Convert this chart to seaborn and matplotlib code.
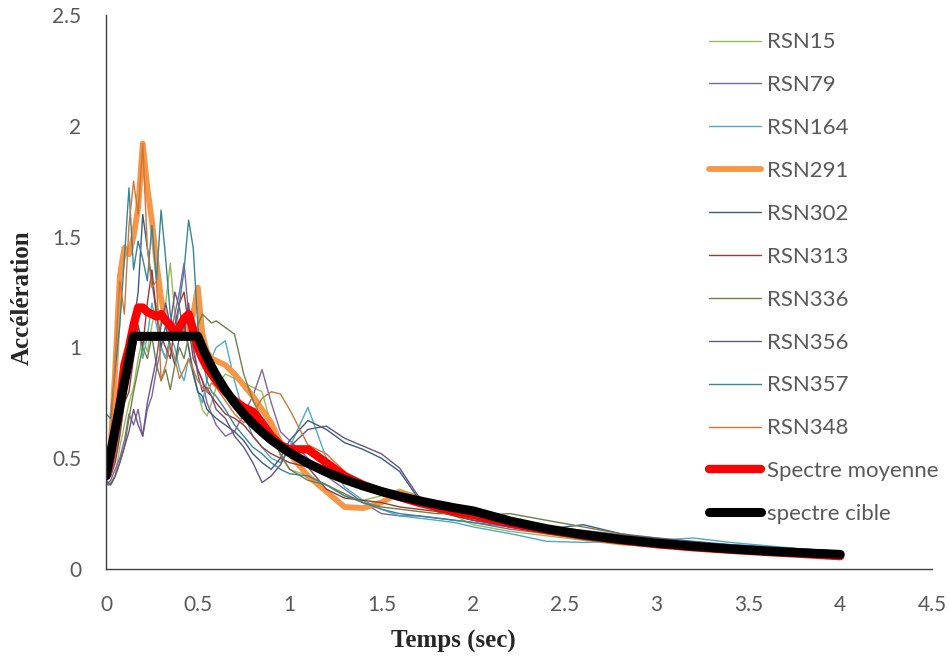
import matplotlib
matplotlib.use("Agg")
import matplotlib.pyplot as plt
import seaborn as sns
import numpy as np

# ---------------- data ----------------
periods = [0, 0.025, 0.05, 0.075, 0.1, 0.125, 0.15, 0.175, 0.2, 0.225, 0.25, 0.275,
           0.3, 0.325, 0.35, 0.375, 0.4, 0.425, 0.45, 0.475, 0.5, 0.525, 0.55, 0.575,
           0.6, 0.65, 0.7, 0.75, 0.8, 0.85, 0.9, 0.95, 1.0, 1.1, 1.2, 1.3, 1.4, 1.5,
           1.6, 1.7, 1.8, 1.9, 2.0, 2.2, 2.4, 2.6, 2.8, 3.0, 3.2, 3.4, 3.6, 3.8, 4.0]

rsn15 = [0.38, 0.39, 0.42, 0.55, 0.65, 0.75, 0.82, 0.95, 1.05, 0.98, 1.10, 1.20,
         1.10, 1.20, 1.38, 1.15, 1.05, 1.12, 1.00, 0.90, 0.80, 0.72, 0.69, 0.75,
         0.82, 0.88, 0.86, 0.84, 0.82, 0.80, 0.65, 0.51, 0.45, 0.42, 0.38, 0.33, 0.31, 0.33,
         0.36, 0.33, 0.28, 0.24, 0.20, 0.17, 0.15, 0.13, 0.11, 0.10, 0.09, 0.08, 0.072, 0.066, 0.06]
rsn79 = [0.38, 0.40, 0.45, 0.50, 0.58, 0.70, 0.65, 0.72, 0.60, 0.72, 0.78, 0.90,
         1.00, 0.95, 1.05, 1.15, 1.25, 1.38, 1.15, 1.00, 0.90, 0.85, 0.75, 0.70,
         0.65, 0.60, 0.62, 0.70, 0.78, 0.90, 0.75, 0.62, 0.58, 0.50, 0.42, 0.36, 0.30, 0.25,
         0.24, 0.24, 0.23, 0.22, 0.21, 0.18, 0.16, 0.14, 0.12, 0.11, 0.10, 0.09, 0.08, 0.072, 0.065]
rsn164 = [0.40, 0.42, 0.50, 0.62, 0.75, 0.90, 1.00, 1.10, 0.95, 1.05, 1.20, 1.10,
          1.00, 0.95, 1.05, 1.00, 0.90, 0.85, 0.95, 0.88, 0.80, 0.75, 0.85, 0.95,
          1.00, 1.03, 0.85, 0.70, 0.60, 0.55, 0.50, 0.48, 0.55, 0.73, 0.50, 0.37, 0.31, 0.27,
          0.24, 0.23, 0.22, 0.21, 0.19, 0.16, 0.125, 0.12, 0.125, 0.13, 0.14, 0.12, 0.105, 0.09, 0.08]
rsn291 = [0.45, 0.55, 0.90, 1.32, 1.45, 1.42, 1.50, 1.63, 1.92, 1.72, 1.57, 1.38,
          1.22, 1.12, 1.08, 1.06, 1.07, 1.05, 1.09, 1.15, 1.27, 1.06, 0.98, 0.95,
          0.94, 0.92, 0.88, 0.83, 0.78, 0.72, 0.66, 0.57, 0.52, 0.42, 0.35, 0.28, 0.275, 0.30,
          0.345, 0.32, 0.28, 0.255, 0.235, 0.20, 0.17, 0.145, 0.125, 0.108, 0.095, 0.084, 0.075, 0.067, 0.06]
rsn302 = [0.42, 0.45, 0.55, 0.70, 0.85, 1.00, 1.10, 1.25, 1.60, 1.45, 1.30, 1.15,
          1.00, 1.10, 1.00, 0.92, 1.05, 1.10, 1.00, 0.88, 0.80, 0.78, 0.72, 0.70,
          0.68, 0.65, 0.62, 0.58, 0.52, 0.48, 0.45, 0.50, 0.58, 0.67, 0.63, 0.57, 0.54, 0.50,
          0.44, 0.32, 0.26, 0.24, 0.22, 0.20, 0.18, 0.20, 0.16, 0.13, 0.12, 0.11, 0.10, 0.09, 0.08]
rsn313 = [0.40, 0.42, 0.48, 0.60, 0.75, 0.80, 0.95, 1.10, 1.00, 1.20, 1.35, 1.15,
          1.05, 1.00, 0.95, 1.10, 1.20, 1.25, 1.10, 0.95, 0.90, 0.85, 0.80, 0.78,
          0.75, 0.70, 0.68, 0.65, 0.60, 0.55, 0.52, 0.50, 0.48, 0.46, 0.36, 0.32, 0.31, 0.30,
          0.28, 0.27, 0.26, 0.24, 0.22, 0.19, 0.17, 0.15, 0.13, 0.11, 0.10, 0.09, 0.08, 0.07, 0.065]
rsn336 = [0.38, 0.38, 0.42, 0.48, 0.55, 0.68, 0.80, 0.90, 1.00, 0.95, 1.05, 0.92,
          0.85, 0.90, 0.81, 0.92, 1.00, 0.95, 1.05, 1.00, 1.10, 1.15, 1.13, 1.11,
          1.12, 1.09, 1.06, 0.88, 0.76, 0.68, 0.60, 0.52, 0.45, 0.40, 0.38, 0.34, 0.30, 0.28,
          0.27, 0.26, 0.25, 0.25, 0.24, 0.25, 0.22, 0.19, 0.16, 0.14, 0.12, 0.105, 0.095, 0.085, 0.075]
rsn356 = [0.40, 0.38, 0.42, 0.48, 0.55, 0.62, 0.72, 0.65, 0.60, 0.75, 0.85, 0.95,
          1.10, 1.20, 1.10, 1.25, 1.18, 1.05, 1.20, 1.00, 0.88, 0.80, 0.82, 0.78,
          0.72, 0.68, 0.60, 0.55, 0.48, 0.39, 0.42, 0.47, 0.55, 0.63, 0.645, 0.59, 0.555, 0.52,
          0.455, 0.33, 0.27, 0.25, 0.23, 0.21, 0.19, 0.175, 0.155, 0.14, 0.125, 0.11, 0.10, 0.09, 0.08]
rsn357 = [0.70, 0.68, 0.90, 1.10, 1.40, 1.72, 1.35, 1.48, 1.40, 1.30, 1.55, 1.30,
          1.62, 1.40, 1.15, 1.05, 1.20, 1.35, 1.575, 1.45, 1.10, 0.95, 0.85, 0.80,
          0.78, 0.72, 0.65, 0.60, 0.55, 0.52, 0.48, 0.45, 0.43, 0.42, 0.38, 0.33, 0.30, 0.27,
          0.25, 0.24, 0.23, 0.22, 0.21, 0.19, 0.17, 0.15, 0.13, 0.12, 0.11, 0.10, 0.09, 0.08, 0.075]
rsn348 = [0.45, 0.60, 0.95, 1.30, 1.15, 1.55, 1.75, 1.60, 1.92, 1.45, 1.27, 1.30,
          0.85, 0.92, 1.02, 0.95, 0.86, 0.90, 0.95, 0.90, 0.85, 0.82, 0.80, 0.84,
          0.82, 0.76, 0.70, 0.66, 0.70, 0.77, 0.80, 0.79, 0.72, 0.56, 0.52, 0.44, 0.38, 0.34,
          0.32, 0.30, 0.28, 0.26, 0.24, 0.20, 0.17, 0.145, 0.125, 0.105, 0.092, 0.082, 0.072, 0.064, 0.056]
spectre_moyenne = [0.42, 0.50, 0.62, 0.75, 0.92, 1.00, 1.10, 1.18, 1.18, 1.16, 1.15, 1.14,
                   1.15, 1.12, 1.10, 1.06, 1.09, 1.13, 1.15, 1.08, 1.00, 0.95, 0.91, 0.88,
                   0.85, 0.80, 0.76, 0.73, 0.71, 0.66, 0.60, 0.56, 0.54, 0.54, 0.48, 0.42, 0.38, 0.35,
                   0.325, 0.30, 0.28, 0.26, 0.245, 0.205, 0.175, 0.15, 0.13, 0.112, 0.098, 0.087, 0.077, 0.068, 0.058]
spectre_cible = [0.42, 0.525, 0.63, 0.735, 0.84, 0.945, 1.05, 1.05, 1.05, 1.05, 1.05, 1.05,
                 1.05, 1.05, 1.05, 1.05, 1.05, 1.05, 1.05, 1.05, 1.05, 1.0, 0.955, 0.913,
                 0.875, 0.808, 0.75, 0.70, 0.656, 0.618, 0.583, 0.553, 0.525, 0.477, 0.4375, 0.404, 0.375, 0.35,
                 0.328, 0.309, 0.292, 0.276, 0.2625, 0.217, 0.182, 0.155, 0.134, 0.117, 0.103, 0.091, 0.081, 0.073, 0.066]

series_names = ["RSN15", "RSN79", "RSN164", "RSN291", "RSN302", "RSN313",
                "RSN336", "RSN356", "RSN357", "RSN348", "Spectre moyenne", "spectre cible"]
series_values = [rsn15, rsn79, rsn164, rsn291, rsn302, rsn313,
                 rsn336, rsn356, rsn357, rsn348, spectre_moyenne, spectre_cible]
colors = ["#9BBB59", "#8064A2", "#4BACC6", "#F79646", "#3B5B86", "#973A38",
          "#6E8046", "#67557F", "#3A8595", "#C9783A", "#FF0000", "#000000"]
widths = [1.0, 1.0, 1.0, 4.2, 1.0, 1.0, 1.0, 1.0, 1.0, 1.0, 6.0, 6.5]

# ---------------- plot ----------------
sns.set_style("white")
plt.rcParams['font.family'] = ['Lato', 'DejaVu Sans']

fig = plt.figure(figsize=(9.5, 6.7), dpi=100)
ax = fig.add_axes([0.1116, 0.1507, 0.8695, 0.8269])

for name, vals, c, w in zip(series_names, series_values, colors, widths):
    sns.lineplot(x=periods, y=vals, ax=ax, color=c, linewidth=w, label=name,
                 solid_capstyle='round', solid_joinstyle='round', sort=False)

ax.set_xlim(0, 4.5)
ax.set_ylim(0, 2.5)
ax.set_xticks([0, 0.5, 1, 1.5, 2, 2.5, 3, 3.5, 4, 4.5])
ax.set_xticklabels(["0", "0.5", "1", "1.5", "2", "2.5", "3", "3.5", "4", "4.5"])
ax.set_yticks([0, 0.5, 1, 1.5, 2, 2.5])
ax.set_yticklabels(["0", "0.5", "1", "1.5", "2", "2.5"])
ax.tick_params(axis='both', length=0, labelsize=15, labelcolor="#595959")
ax.tick_params(axis='x', pad=19)
ax.tick_params(axis='y', pad=18)

for s in ["top", "right"]:
    ax.spines[s].set_visible(False)
for s in ["left", "bottom"]:
    ax.spines[s].set_color("#404040")
    ax.spines[s].set_linewidth(1.0)

ax.set_xlabel("Temps (sec)", fontsize=18, fontweight='bold', family=['Liberation Serif'])
ax.set_ylabel("Accélération", fontsize=18, fontweight='bold', family=['Liberation Serif'])
ax.xaxis.set_label_coords(0.42, -0.11)
ax.yaxis.set_label_coords(-0.088, 0.49)

leg = ax.legend(loc='upper left', bbox_to_anchor=(0.737, 0.965), bbox_transform=fig.transFigure,
                frameon=False, fontsize=16, labelspacing=1.03, handlelength=2.35,
                handletextpad=0.27, borderaxespad=0)
for t in leg.get_texts():
    t.set_color("#595959")

fig.savefig("out.png", dpi=100)
